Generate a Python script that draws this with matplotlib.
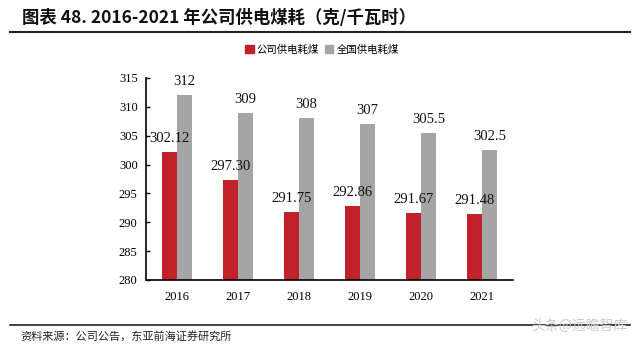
import matplotlib
matplotlib.use("Agg")
import matplotlib.pyplot as plt
import numpy as np
from matplotlib.lines import Line2D
from matplotlib.patches import Patch

years = ["2016", "2017", "2018", "2019", "2020", "2021"]
company = [302.12, 297.30, 291.75, 292.86, 291.67, 291.48]
national = [312, 309, 308, 307, 305.5, 302.5]
company_labels = ["302.12", "297.30", "291.75", "292.86", "291.67", "291.48"]
national_labels = ["312", "309", "308", "307", "305.5", "302.5"]
yticks = [280, 285, 290, 295, 300, 305, 310, 315]
series_names = ["公司供电耗煤", "全国供电耗煤"]

RED = "#C0222C"
GRAY = "#A5A5A5"
CJK = ["Noto Sans CJK SC", "DejaVu Sans"]
SERIF = ["Liberation Serif", "Noto Sans CJK SC"]

fig = plt.figure(figsize=(6.4, 3.49), dpi=100)
W, H = 640, 349
ax = fig.add_axes([146 / W, 1 - 280 / H, (513 - 146) / W, (280 - 78) / H])

x = np.arange(len(years))
w = 0.245
ax.bar(x - w / 2, np.array(company) - 280, width=w, bottom=280, color=RED)
ax.bar(x + w / 2, np.array(national) - 280, width=w, bottom=280, color=GRAY)

for i in range(len(years)):
    ax.annotate(company_labels[i], (x[i] - w / 2, company[i]), xytext=(0, 5),
                textcoords="offset points", ha="center", va="bottom",
                fontsize=10.5, family=SERIF, color="#111111")
    ax.annotate(national_labels[i], (x[i] + w / 2, national[i]), xytext=(0, 5),
                textcoords="offset points", ha="center", va="bottom",
                fontsize=10.5, family=SERIF, color="#111111")

ax.set_xlim(-0.5, 5.5)
ax.set_ylim(280, 315)
ax.set_yticks(yticks)
ax.set_yticklabels([str(t) for t in yticks], family=SERIF, fontsize=9)
ax.set_xticks(x)
ax.set_xticklabels(years, family=SERIF, fontsize=9)
for s in ["top", "right"]:
    ax.spines[s].set_visible(False)
ax.spines["left"].set_linewidth(1.2)
ax.spines["bottom"].set_linewidth(1.2)
ax.tick_params(axis="y", direction="in", length=3, width=1, pad=6)
ax.tick_params(axis="x", length=0, pad=8)

# legend
handles = [Patch(color=RED), Patch(color=GRAY)]
fig.legend(handles, series_names, loc="center", bbox_to_anchor=(322 / W, 1 - 50 / H),
           ncol=2, frameon=False, prop={"family": CJK, "size": 7.5},
           handlelength=0.8, handleheight=0.8, handletextpad=0.3, columnspacing=0.6)

# title
fig.text(22 / W, 1 - 18 / H, "图表 48. 2016-2021 年公司供电煤耗（克/千瓦时）",
         family=["Noto Sans CJK SC"], fontsize=12.5, fontweight="bold",
         ha="left", va="center", color="#111111")
fig.add_artist(Line2D([10 / W, 630 / W], [1 - 32 / H, 1 - 32 / H],
                      color="#222222", linewidth=1.5, transform=fig.transFigure))
fig.add_artist(Line2D([10 / W, 630 / W], [1 - 325 / H, 1 - 325 / H],
                      color="#222222", linewidth=1.2, transform=fig.transFigure))
fig.text(20 / W, 1 - 336 / H, "资料来源：公司公告，东亚前海证券研究所",
         family=CJK, fontsize=8, ha="left", va="center", color="#222222")
fig.text(628 / W, 1 - 326 / H, "头条@远瞻智库", family=CJK, fontsize=10,
         ha="right", va="center", color="#cccccc")

fig.savefig("out.png", dpi=100)
